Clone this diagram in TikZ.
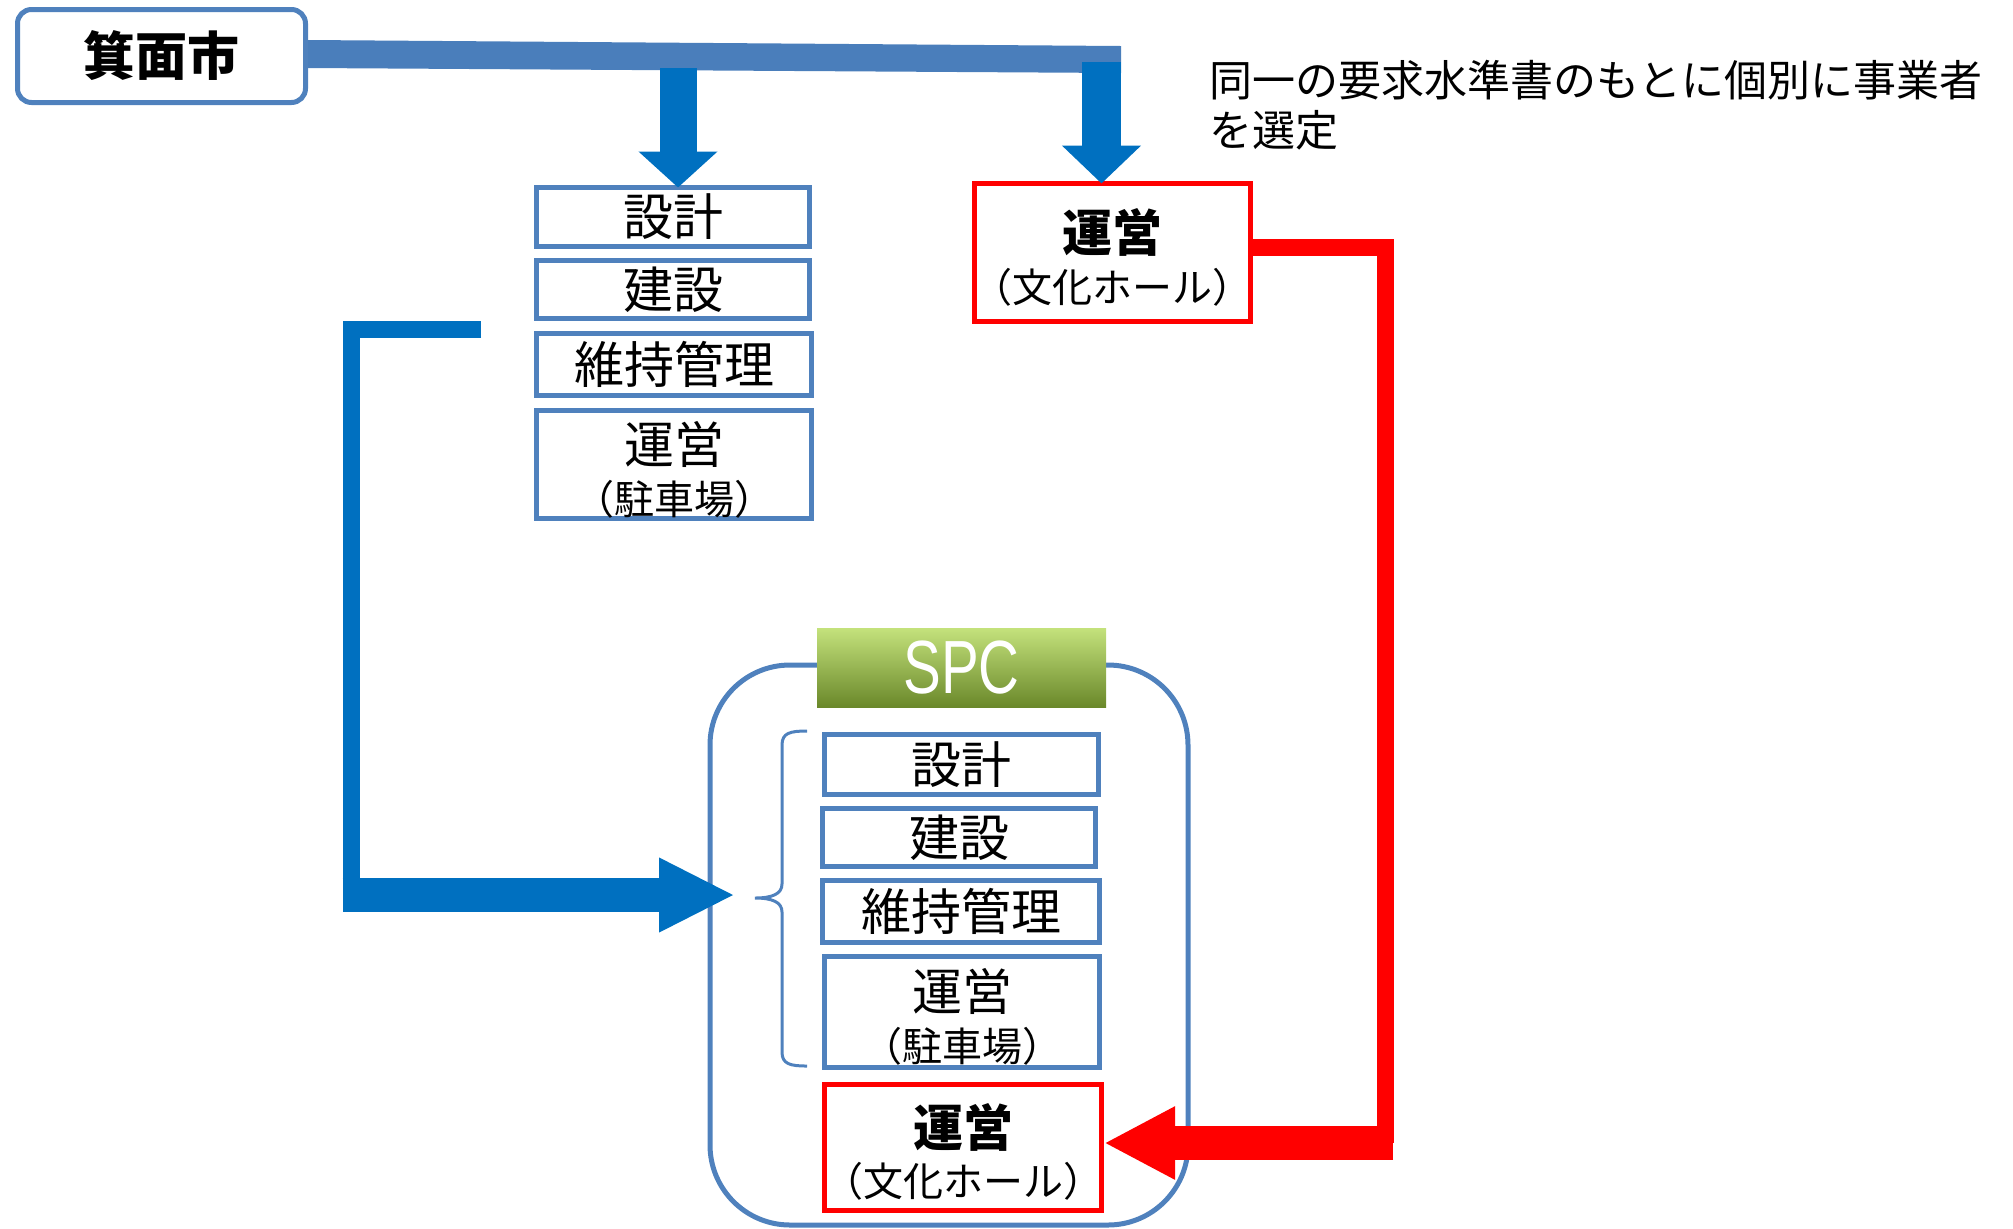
\documentclass[tikz,border=0pt]{standalone}
\usepackage{fontspec}
\usepackage{graphicx}
\setmainfont{Noto Sans CJK JP}
\newfontfamily\spcfont{Liberation Sans}
\usetikzlibrary{arrows.meta}
\definecolor{barblue}{HTML}{4A7EBB}
\definecolor{arrowblue}{HTML}{0070C0}
\definecolor{boxblue}{HTML}{4F81BD}
\definecolor{hotred}{HTML}{FF0000}
\definecolor{gtop}{HTML}{C4E27C}
\definecolor{gmid}{HTML}{97C23E}
\definecolor{gbot}{HTML}{6A882A}
\tikzset{
  bluebox/.style={draw=boxblue, line width=2.5pt, fill=white, inner sep=0pt, font=\fontsize{25}{28}\selectfont},
  redbox/.style={draw=hotred, line width=2.5pt, fill=white, inner sep=0pt},
  big/.style={inner sep=0pt, font=\fontsize{25}{28}\selectfont},
  bigb/.style={inner sep=0pt, font=\fontsize{25}{28}\selectfont\bfseries},
  small/.style={inner sep=0pt, font=\fontsize{20}{22}\selectfont},
  note/.style={inner sep=0pt, anchor=west, font=\fontsize{21.5}{24}\selectfont},
}
\begin{document}
\begin{tikzpicture}[x=0.5pt,y=-0.5pt]
\useasboundingbox (0,0) rectangle (2013,1228);
% city
\node[draw=boxblue, line width=2.5pt, rounded corners=7pt, fill=white, minimum width=144pt, minimum height=46.5pt, inner sep=0pt, font=\fontsize{26}{28}\selectfont\bfseries] (city) at (161.5,56) {箕面市};
% horizontal bar
\coordinate (barend) at (1121,59.5);
\fill[barblue] (city.east |- 0,40) -- (1121,46) -- (1121,73) -- (city.east |- 0,68) -- cycle;
% left boxes
\node[bluebox, minimum width=136.5pt, minimum height=29.5pt] (d1) at (673,217) {設計};
\node[bluebox, minimum width=136.5pt, minimum height=29pt] (d2) at (673,289.5) {建設};
\node[bluebox, minimum width=137.5pt, minimum height=31pt] (d3) at (674,364.5) {維持管理};
\node[bluebox, minimum width=137.5pt, minimum height=54pt] (d4) at (674,464.5) {};
\node[big] (d4a) at (674,444) {運営};
\node[small] (d4b) at (674,499) {（駐車場）};
% top red box
\node[redbox, minimum width=138pt, minimum height=69pt] (r1) at (1112.5,252.5) {};
\node[bigb] (r1a) at (1112.5,232) {運営};
\node[small] (r1b) at (1112.5,287) {（文化ホール）};
% down arrows
\draw[arrowblue, line width=18.5pt, -{Triangle[width=38.5pt,length=18pt]}] (678,68) -- (678,187.5);
\draw[arrowblue, line width=19.5pt, -{Triangle[width=38.5pt,length=19pt]}] (1101.5,62) -- (1101.5,183.5);
% annotation
\node[note] (n1) at (1209,80) {同一の要求水準書のもとに個別に事業者};
\node[note] (n2) at (1209,130) {を選定};
% SPC container
\draw[boxblue, line width=2.5pt, rounded corners=40pt] (710,665) rectangle (1188,1225);
\node[shade, top color=gtop, middle color=gmid, bottom color=gbot, minimum width=144.5pt, minimum height=39.5pt, inner sep=0pt, text=white] (spc) at (961.5,667.5) {\spcfont\fontsize{37.7}{40}\selectfont\scalebox{0.75}[1]{SPC}};
% inner boxes
\node[bluebox, minimum width=137pt, minimum height=30pt] (s1) at (961.5,764.5) {設計};
\node[bluebox, minimum width=136.5pt, minimum height=29pt] (s2) at (959,837.5) {建設};
\node[bluebox, minimum width=138.5pt, minimum height=31pt] (s3) at (961,911.5) {維持管理};
\node[bluebox, minimum width=137.5pt, minimum height=55.5pt] (s4) at (962,1012) {};
\node[big] (s4a) at (962,991) {運営};
\node[small] (s4b) at (962,1046) {（駐車場）};
\node[redbox, minimum width=138.5pt, minimum height=63pt] (s5) at (963,1147.5) {};
\node[bigb] (s5a) at (963,1127) {運営};
\node[small] (s5b) at (963,1181) {（文化ホール）};
% brace
\draw[boxblue, line width=1.5pt] (807,731) .. controls (790,731) and (782,733) .. (782,745) -- (782,884) .. controls (782,894) and (772,898) .. (755,898) .. controls (772,898) and (782,902) .. (782,912) -- (782,1052) .. controls (782,1064) and (790,1066) .. (807,1066);
% blue L connector
\coordinate (Lstart) at (481,329);
\coordinate (Lcorner) at (351,329);
\coordinate (Lbottom) at (351,895);
\coordinate (Ltip) at (735,895);
\draw[arrowblue, line width=8.5pt] (Lstart) -- (Lcorner) -- (Lbottom);
\draw[arrowblue, line width=17pt, -{Triangle[width=34.5pt,length=38pt]}] (342.5,895) -- (Ltip);
% red connector
\coordinate (rc1) at (1385,247);
\coordinate (rc2) at (1385,1143);
\draw[hotred, line width=8.5pt] (r1.east |- rc1) -- (rc1) -- (rc2);
\draw[hotred, line width=17pt, -{Triangle[width=34pt,length=35.5pt]}] (1393,1143) -- (s5.east |- rc2);
\end{tikzpicture}
\end{document}
